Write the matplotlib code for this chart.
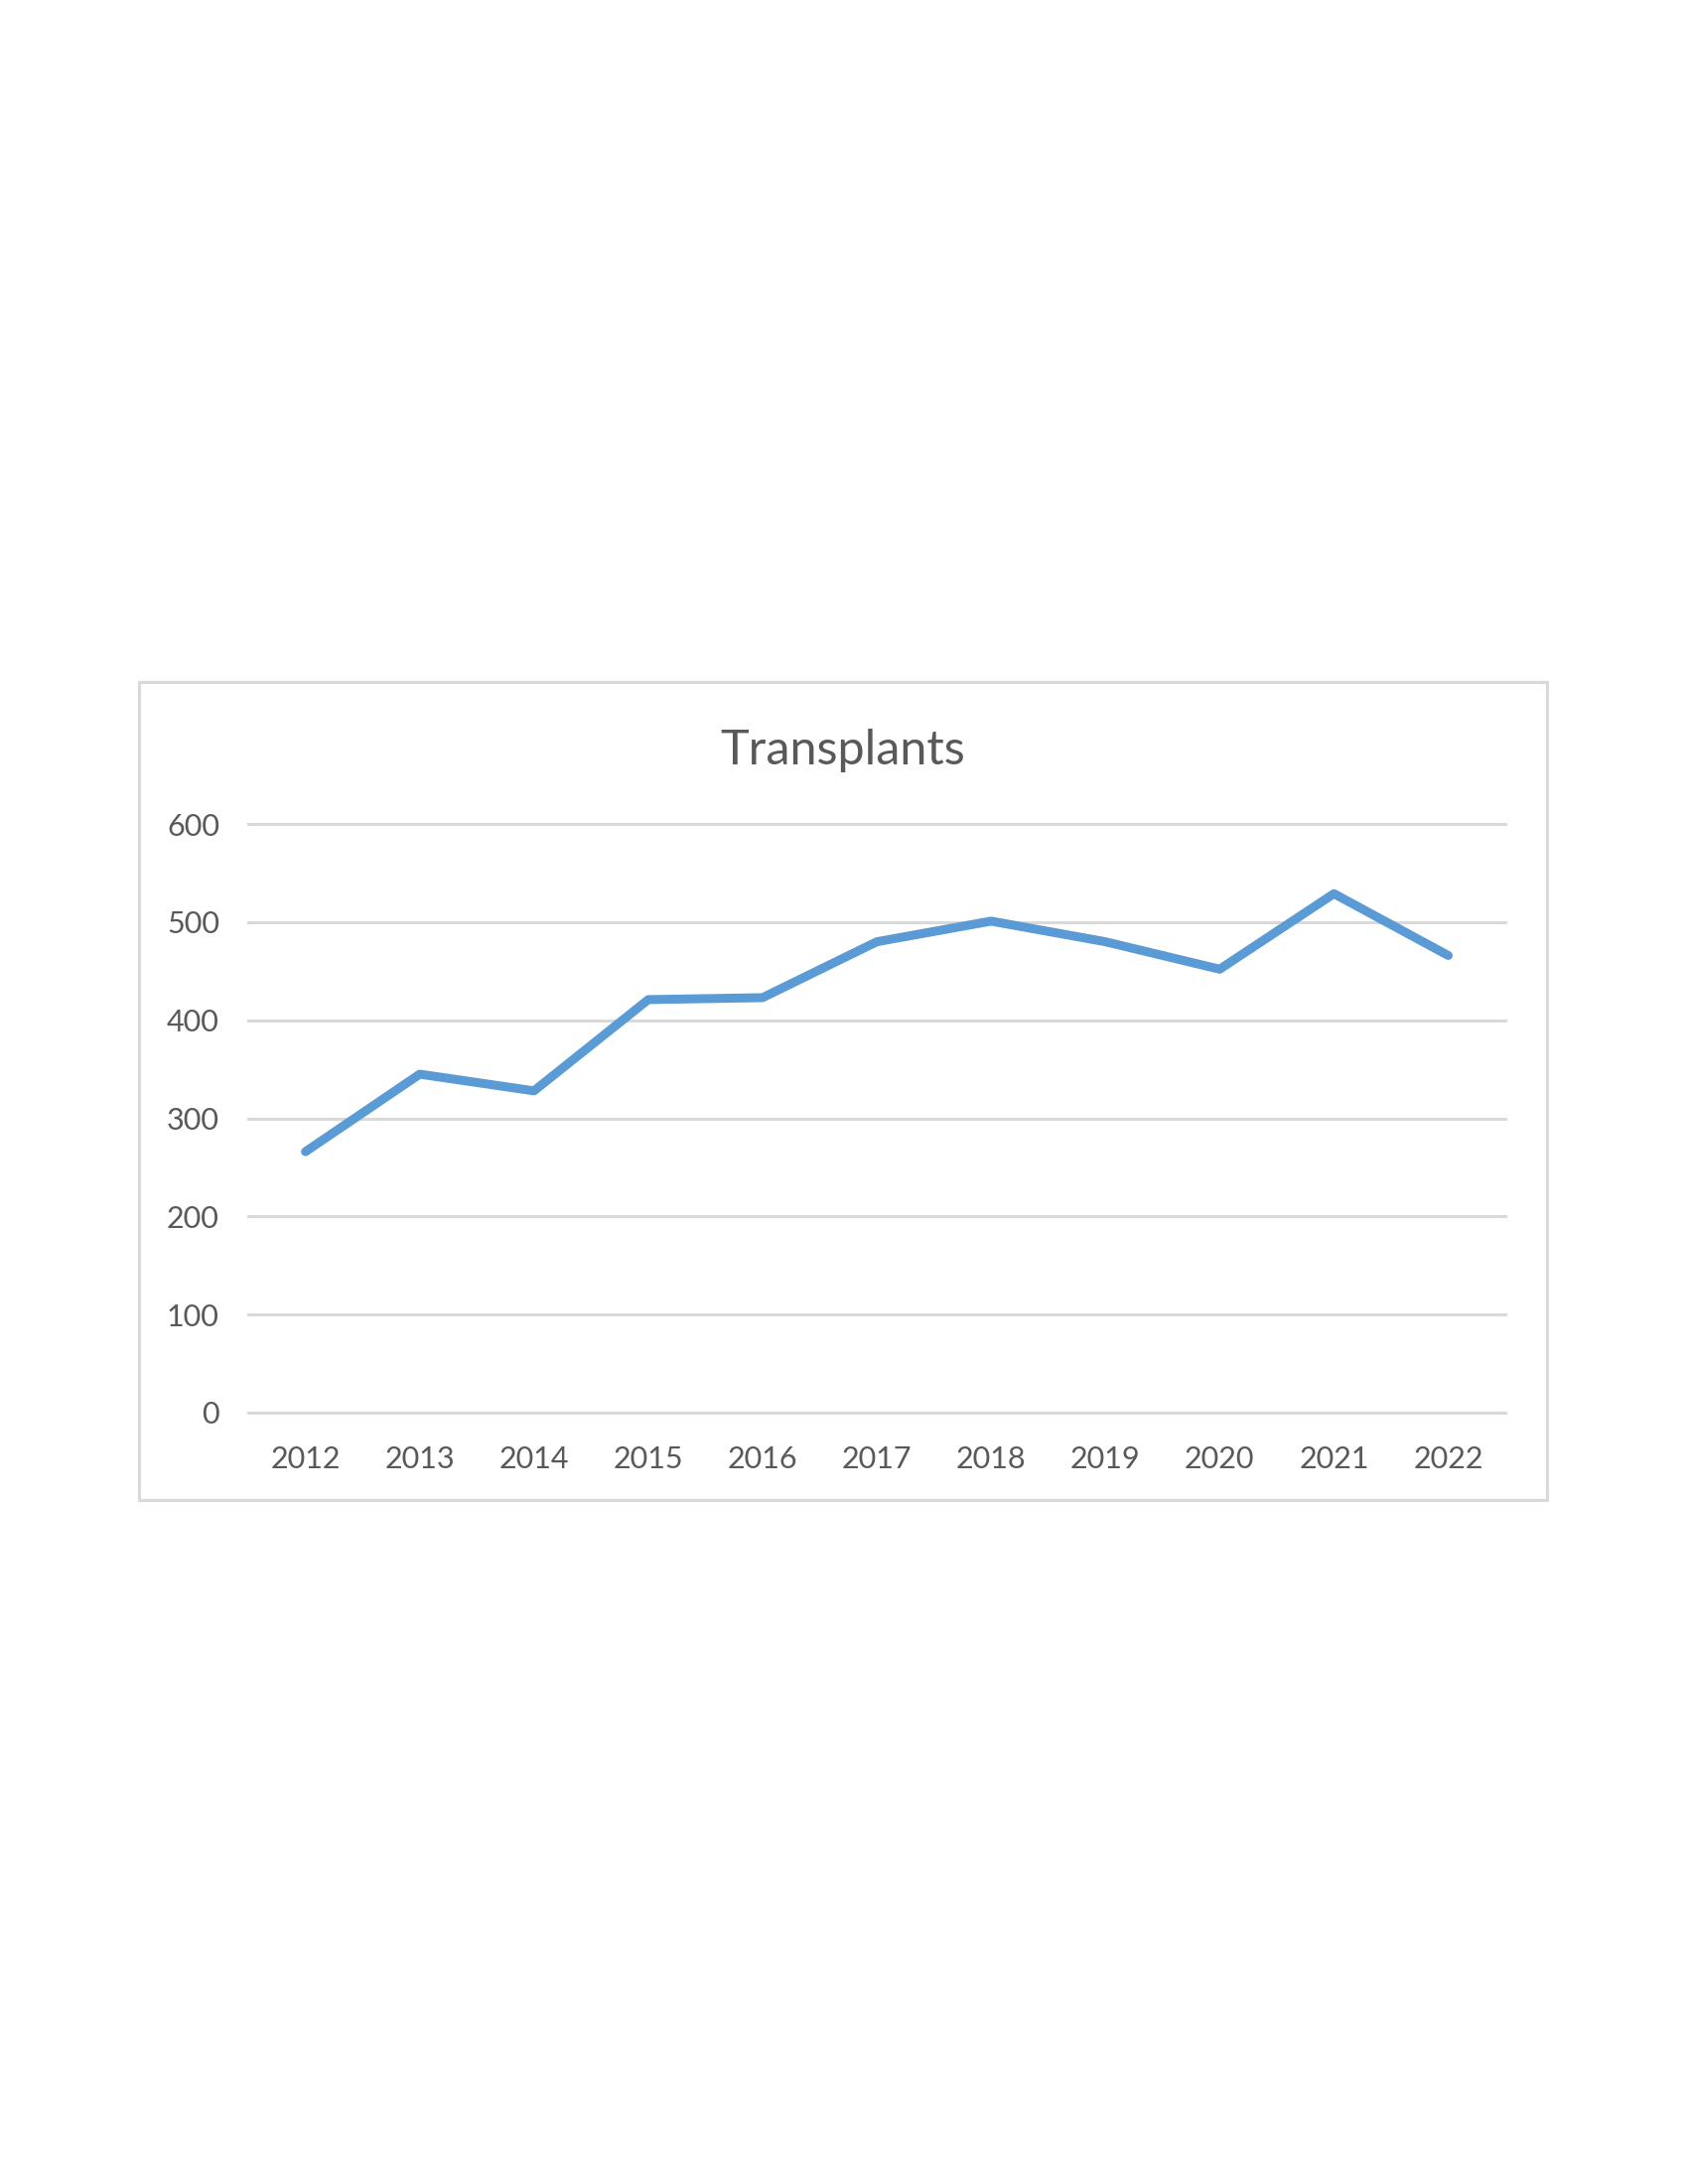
import matplotlib.pyplot as plt
from matplotlib.patches import Rectangle

years = ['2012', '2013', '2014', '2015', '2016', '2017', '2018', '2019', '2020', '2021', '2022']
transplants = [266, 345, 328, 421, 423, 480, 501, 480, 452, 529, 466]
y_ticks = [0, 100, 200, 300, 400, 500, 600]

plt.rcParams['font.family'] = ['Lato', 'DejaVu Sans']
text_col = '#595959'
grid_col = '#D9D9D9'

fig = plt.figure(figsize=(17, 22), dpi=100)

# outer chart frame
fig.patches.append(Rectangle((0.0824, 0.3132), 0.8341, 0.3745, transform=fig.transFigure,
                             fill=False, edgecolor=grid_col, linewidth=2.2))

ax = fig.add_axes([0.1471, 0.3532, 0.7447, 0.2695])
x = list(range(len(years)))
ax.plot(x, transplants, color='#5B9BD5', linewidth=6.5,
        solid_capstyle='round', solid_joinstyle='round', zorder=3)

ax.set_xlim(-0.5, len(years) - 0.5)
ax.set_ylim(0, 600)
ax.set_yticks(y_ticks)
ax.set_yticklabels([str(v) for v in y_ticks])
ax.set_xticks(x)
ax.set_xticklabels(years)
for v in y_ticks:
    ax.axhline(v, color=grid_col, linewidth=2.2, zorder=1, clip_on=False)

for s in ax.spines.values():
    s.set_visible(False)
ax.tick_params(axis='both', length=0, labelsize=22, labelcolor=text_col)
ax.tick_params(axis='y', pad=21)
ax.tick_params(axis='x', pad=24)

fig.text(0.4994, 0.6565, 'Transplants', ha='center', va='center', fontsize=35, color=text_col)

fig.savefig('out.png', dpi=100, facecolor='white')
